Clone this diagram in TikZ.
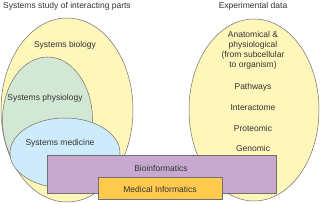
\documentclass[tikz,border=0pt]{standalone}
\usepackage{fontspec}
\setmainfont{Liberation Sans}
\usetikzlibrary{shapes.geometric,shadows}
\definecolor{ylw}{HTML}{FFF6BA}
\definecolor{grn}{HTML}{D2E8D4}
\definecolor{blu}{HTML}{CDEBFA}
\definecolor{pur}{HTML}{C7A9D0}
\definecolor{org}{HTML}{FFCA4E}
\definecolor{edge}{HTML}{707070}
\definecolor{txt}{HTML}{333333}
\begin{document}
\begin{tikzpicture}[x=1pt,y=-1pt,
  blob/.style={ellipse,draw=edge,line width=0.5pt,inner sep=0pt},
  panel/.style={rectangle,draw=edge,line width=0.5pt,inner sep=0pt,
    drop shadow={shadow xshift=0.8pt,shadow yshift=-0.8pt,fill=black!60,opacity=1}},
  lbl/.style={text=txt,font=\fontsize{8.5}{10}\selectfont,inner sep=0pt,align=center}]
\useasboundingbox[fill=white] (0,0) rectangle (320,203);
\node[blob,fill=ylw,minimum width=132pt,minimum height=184pt] (sysbio) at (67,110) {};
\node[blob,fill=ylw,minimum width=130pt,minimum height=182pt] (exp) at (254,110) {};
\node[blob,fill=grn,minimum width=90pt,minimum height=126pt] (sysphys) at (47.5,120) {};
\node[blob,fill=blu,minimum width=110pt,minimum height=70pt] (sysmed) at (65,153) {};
\node[panel,fill=pur,minimum width=229pt,minimum height=38pt] (bio) at (161.5,174) {};
\node[panel,fill=org,minimum width=124pt,minimum height=22pt] (med) at (160,188) {};
\node[lbl,anchor=west] (t1) at (3,6) {Systems study of interacting parts};
\node[lbl] (t2) at (253,6) {Experimental data};
\node[lbl] (l1) at (65,45) {Systems biology};
\node[lbl] (l2) at (45,98) {Systems physiology};
\node[lbl] (l3) at (60,143) {Systems medicine};
\node[lbl] (l4) at (161,168) {Bioinformatics};
\node[lbl] (l5) at (160,189) {Medical Informatics};
\node[lbl] (r1) at (253,50) {Anatomical \&\\physiological\\(from subcellular\\to organism)};
\node[lbl] (r2) at (253,87) {Pathways};
\node[lbl] (r3) at (253,108) {Interactome};
\node[lbl] (r4) at (253,128) {Proteomic};
\node[lbl] (r5) at (253,148) {Genomic};
\end{tikzpicture}
\end{document}
